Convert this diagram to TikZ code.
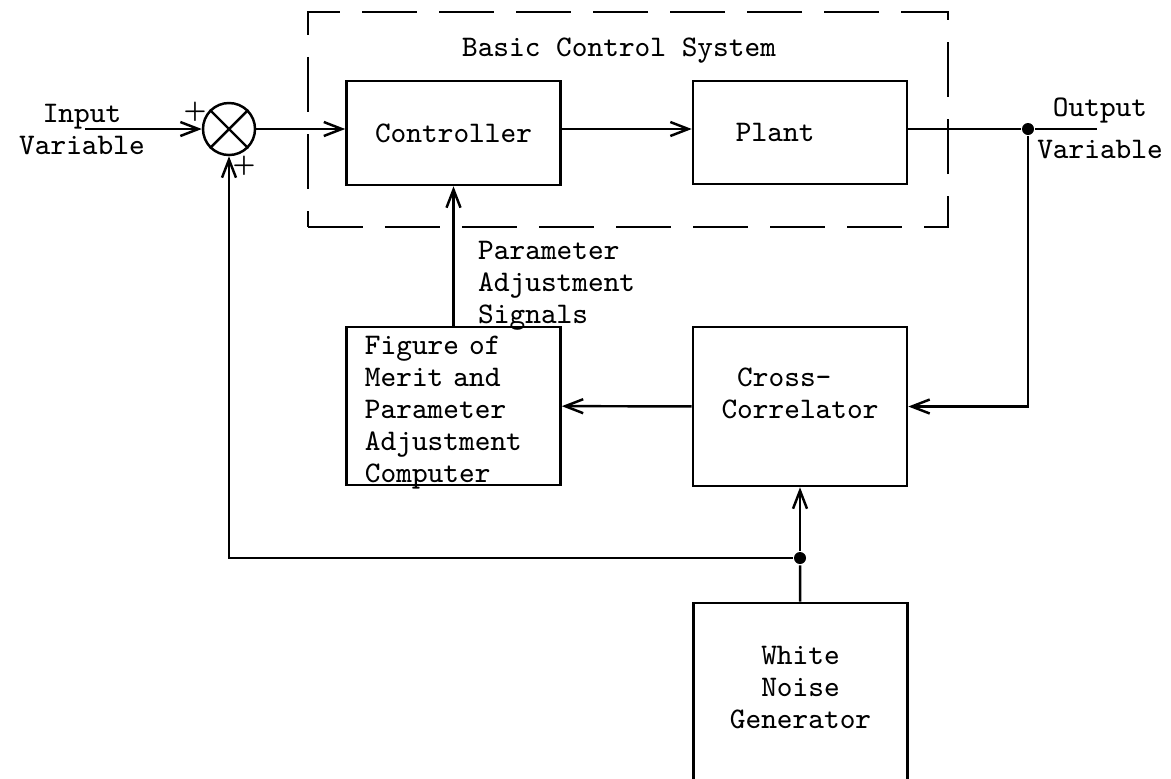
\documentclass[tikz,border=0pt]{standalone}
\usepackage{fontspec}
\usetikzlibrary{arrows.meta}

\begin{document}
\begin{tikzpicture}[x=0.01cm,y=-0.01cm,line width=0.7pt]
	\tikzstyle{every node}=[inner sep=0pt,font=\fontsize{8.5pt}{9.1pt}\selectfont\ttfamily]
	\tikzstyle{block}=[draw,minimum width=2.14cm,text height=0.2cm]
	\tikzstyle{frame}=[draw,dash pattern=on 5.5mm off 2.2mm,minimum width=6.4cm,minimum height=2.15cm]
	\tikzstyle{signal}=[-{Straight Barb[length=1.8mm,width=1.4mm]}]
	\tikzstyle{junction}=[circle,fill,minimum size=1.2mm]
	\tikzstyle{sign}=[font=\fontsize{6.5pt}{6.5pt}\selectfont\bfseries]

	\useasboundingbox (0,0) rectangle (1171,778);
	\clip (0,0) rectangle (1171,778);

	% basic loop
	\node[frame] (basic) at (628,119.5) {};
	\node[anchor=base] (title) at (619,56) {Basic Control System};
	\node[block,minimum height=1.04cm,text depth=0.02cm] (ctrl) at (453.5,133) {Controller};
	\node[block,minimum height=1.03cm,text depth=0.02cm,text width=1.28cm,align=left] (plant) at (800,132.5) {Plant};
	\node[circle,draw,minimum size=0.52cm] (sum) at (229,129) {};
	\draw (sum.north west) -- (sum.south east) (sum.north east) -- (sum.south west);
	\node[sign] (plus1) at (195,112) {+};
	\node[sign] (plus2) at (244,166) {+};

	% adaptive part
	\node[block,minimum height=1.58cm,text width=1.77cm,align=left,text depth=1.22cm] (merit) at (453.5,406) {Figure of\\Merit and\\Parameter\\Adjustment\\Computer};
	\node[block,minimum height=1.59cm,align=left,text height=0.43cm,text depth=0.2cm] (corr) at (800,406.5) {\ Cross-\\Correlator};
	\node[block,minimum height=1.97cm,align=center,text height=0.73cm,text depth=0.2cm] (noise) at (800.5,701.5) {White\\Noise\\Generator};

	% labels
	\node[align=center,anchor=north] (input) at (82,103) {Input\\Variable};
	\node[align=center,anchor=north] (output) at (1100,97) {Output\\[1mm]Variable};
	\node[align=left,anchor=north west] (params) at (477,240) {Parameter\\Adjustment\\Signals};

	\node[junction] (tap) at (1028,129) {};
	\node[junction] (split) at (800,558) {};
	\coordinate (in) at (85,129);
	\coordinate (out) at (1097,129);

	\draw[signal] (in) -- (sum);
	\draw[signal] (sum) -- (sum -| ctrl.west);
	\draw[signal] (sum -| ctrl.east) -- (sum -| plant.west);
	\draw (sum -| plant.east) -- (tap) -- (out);
	\draw[signal] (tap) |- (corr);
	\draw[signal] (corr) -- (merit);
	\draw[signal] (merit) -- (ctrl);
	\draw (noise) -- (split);
	\draw[signal] (split) -- (corr);
	\draw[signal] (split) -| (sum);
\end{tikzpicture}
\end{document}
